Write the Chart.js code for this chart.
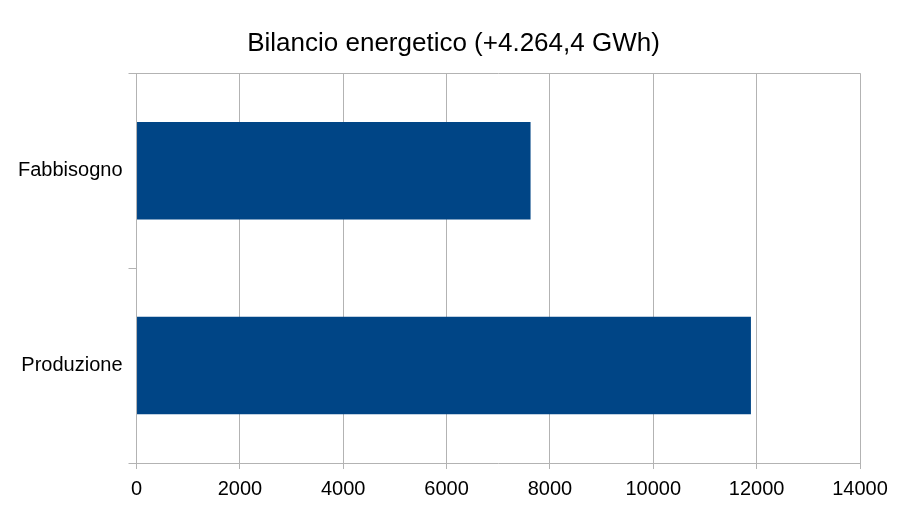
<!DOCTYPE html>
<html>
<head>
<meta charset="utf-8">
<script src="https://cdn.jsdelivr.net/npm/chart.js@4"></script>
<style>
  html, body { margin: 0; padding: 0; background: #fff; }
  #wrap { width: 907px; height: 510px; }
</style>
</head>
<body>
<div id="wrap"><canvas id="chart"></canvas></div>
<script>
// data
const categories = ['Fabbisogno', 'Produzione'];
const energyValues = [7625, 11889.4];
const xTicks = [0, 2000, 4000, 6000, 8000, 10000, 12000, 14000];
const chartTitle = 'Bilancio energetico (+4.264,4 GWh)';

const gridGray = '#b3b3b3';

// centre the title on the whole canvas, not on the padded area
const centerTitle = {
    id: 'centerTitle',
    afterLayout(chart) {
        const t = chart.titleBlock;
        if (!t) return;
        t.left = 0;
        t.right = chart.width;
        t.width = chart.width;
    }
};

const ctx = document.getElementById('chart').getContext('2d');
new Chart(ctx, {
    type: 'bar',
    data: {
        labels: categories,
        datasets: [{
            data: energyValues,
            backgroundColor: '#004586',
            borderWidth: 0,
            barPercentage: 0.5,
            categoryPercentage: 1
        }]
    },
    options: {
        indexAxis: 'y',
        responsive: true,
        maintainAspectRatio: false,
        animation: false,
        layout: { padding: { left: 12, right: 47, top: 10, bottom: 1 } },
        plugins: {
            legend: { display: false },
            tooltip: { enabled: false },
            title: {
                display: true,
                text: chartTitle,
                color: '#000',
                font: { family: 'Liberation Sans', size: 26, weight: 'normal' },
                padding: { top: 18, bottom: 14 }
            }
        },
        scales: {
            x: {
                min: 0,
                max: 14000,
                afterBuildTicks: axis => { axis.ticks = xTicks.map(v => ({ value: v })); },
                grid: { color: gridGray, tickLength: 6, lineWidth: 1 },
                border: { color: gridGray },
                ticks: {
                    color: '#000',
                    font: { family: 'Liberation Sans', size: 20 },
                    padding: 8,
                    maxRotation: 0,
                    callback: v => String(v)
                }
            },
            y: {
                grid: {
                    offset: true,
                    color: c => c.index === 0 ? gridGray : 'rgba(0,0,0,0)',
                    tickColor: gridGray,
                    tickLength: 8
                },
                border: { color: gridGray },
                ticks: {
                    color: '#000',
                    font: { family: 'Liberation Sans', size: 20 },
                    padding: 6
                }
            }
        }
    },
    plugins: [centerTitle]
});
</script>
</body>
</html>
